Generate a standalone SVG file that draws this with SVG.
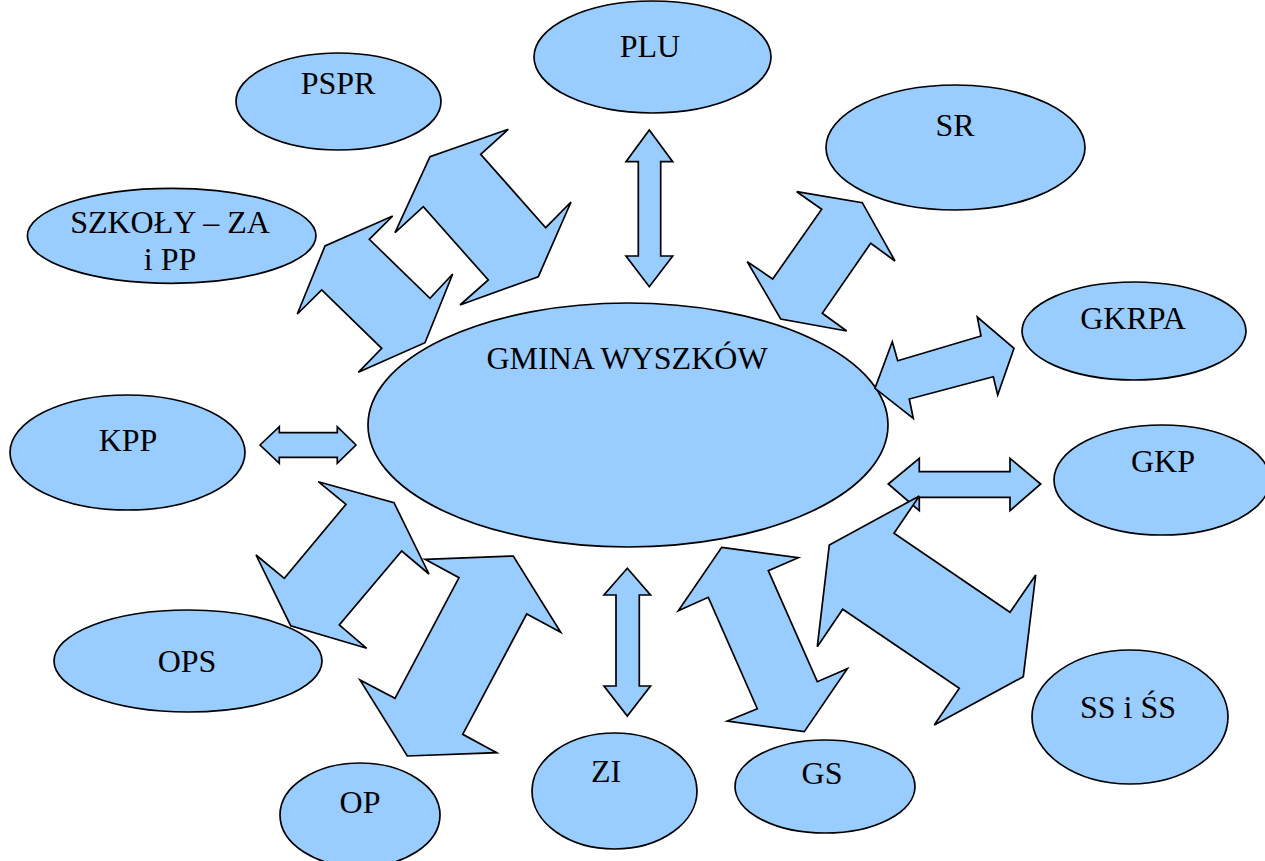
<svg xmlns="http://www.w3.org/2000/svg" width="1265" height="861" viewBox="0 0 1265 861">
<style>
.n{fill:#99CCFF;stroke:#000;stroke-width:1.7}
.c{fill:#99CCFF;stroke:#000;stroke-width:1.7;stroke-linejoin:miter}
.t{font-family:"Liberation Serif","Times New Roman",serif;font-size:32px;fill:#000;text-anchor:middle}
</style>
<rect width="1265" height="861" fill="#fff"/>
<g id="nodes">
<g id="gmina"><ellipse class="n" cx="628" cy="425" rx="260" ry="122"/><text class="t" x="627" y="369">GMINA WYSZKÓW</text></g>
<g id="plu"><ellipse class="n" cx="652.5" cy="57" rx="118.5" ry="56"/><text class="t" x="650" y="57">PLU</text></g>
<g id="pspr"><ellipse class="n" cx="338.5" cy="101.5" rx="102.5" ry="48.5"/><text class="t" x="338" y="94">PSPR</text></g>
<g id="sr"><ellipse class="n" cx="955.5" cy="147.5" rx="129.5" ry="62.5"/><text class="t" x="955" y="136">SR</text></g>
<g id="szkoly"><ellipse class="n" cx="171.7" cy="235.8" rx="144.3" ry="47.5"/><text class="t" x="170" y="233">SZKOŁY – ZA</text><text class="t" x="170" y="270">i PP</text></g>
<g id="gkrpa"><ellipse class="n" cx="1134" cy="331" rx="112" ry="49"/><text class="t" x="1133" y="329">GKRPA</text></g>
<g id="kpp"><ellipse class="n" cx="127.5" cy="452.5" rx="117.5" ry="57.5"/><text class="t" x="128" y="451">KPP</text></g>
<g id="gkp"><ellipse class="n" cx="1162" cy="480" rx="108" ry="55"/><text class="t" x="1163" y="472">GKP</text></g>
<g id="ops"><ellipse class="n" cx="188" cy="661" rx="134" ry="51"/><text class="t" x="187" y="672">OPS</text></g>
<g id="op"><ellipse class="n" cx="360" cy="815" rx="80" ry="52"/><text class="t" x="360" y="813">OP</text></g>
<g id="zi"><ellipse class="n" cx="614.5" cy="791" rx="82.5" ry="58"/><text class="t" x="606" y="782">ZI</text></g>
<g id="gs"><ellipse class="n" cx="825" cy="786.5" rx="90" ry="46.5"/><text class="t" x="822" y="784">GS</text></g>
<g id="ssss"><ellipse class="n" cx="1130" cy="717" rx="98" ry="67"/><text class="t" x="1128" y="718">SS i ŚS</text></g>
</g>
<g id="connectors">
<polygon class="c" points="649.3,130 672.7,161.7 660.7,161.7 660.7,256 672.7,256 649.3,286.7 626,256 638.3,256 638.3,161.7 626,161.7"/>
<polygon class="c" points="508.3,129.3 480.7,154.3 545.7,227.7 571,202 538.3,276.7 460,305 488.3,280 423.3,206.7 395,232.7 430,156.7"/>
<polygon class="c" points="392.7,216 369.3,239.3 430,298.3 452.7,274 425,342.7 358.3,372.3 381.7,348.3 321.7,290 297.3,314 325,246"/>
<polygon class="c" points="796.7,191.7 862.3,202.7 895,261 870.7,243.3 822.3,313.3 846.7,331 780.7,319 747.3,261.7 772.7,279 821.7,209.3"/>
<polygon class="c" points="892.3,341.7 897.7,360.7 981,336 977.3,317 1014,348.3 997.7,395 993.3,376.7 909.3,399 913.3,418.3 875,388.3"/>
<polygon class="c" points="260,445 279.3,426.7 279.3,432.7 337.3,432.7 337.3,426.7 356,445 337.3,463.3 337.3,457.3 279.3,457.3 279.3,463.3"/>
<polygon class="c" points="888.3,484 919.3,458.3 919.3,471.7 1010,471.7 1010,458.3 1040.7,484 1010,510.7 1010,497.3 919.3,497.3 919.3,510.7"/>
<polygon class="c" points="318.3,481.7 346,504.3 284.3,578.3 256,555 290.7,625.7 366.7,648.3 339.3,625 401.7,551 429,574 394,502.7"/>
<polygon class="c" points="425,559.3 513.3,556 560.7,632.3 526.7,614 462.7,734.3 496.7,752.7 407.3,756 360,680 395,698.3 459,577.7"/>
<polygon class="c" points="627.3,568.3 650.5,595 639.3,595 639.3,686 650.5,686 627.3,716 604,686 616,686 616,595 604,595"/>
<polygon class="c" points="721.7,547.3 798.3,557.7 768.3,570.7 817.3,681.7 847.3,668.7 804.3,731.7 727.3,721 757.3,708.7 708.3,597.3 678.3,610.7"/>
<polygon class="c" points="919.3,496 894,533.3 1010,612.3 1035.7,575 1023.3,676.7 934.3,725 959.3,688.3 842.7,609.3 817.3,646.7 829.3,545"/>
</g>
</svg>
